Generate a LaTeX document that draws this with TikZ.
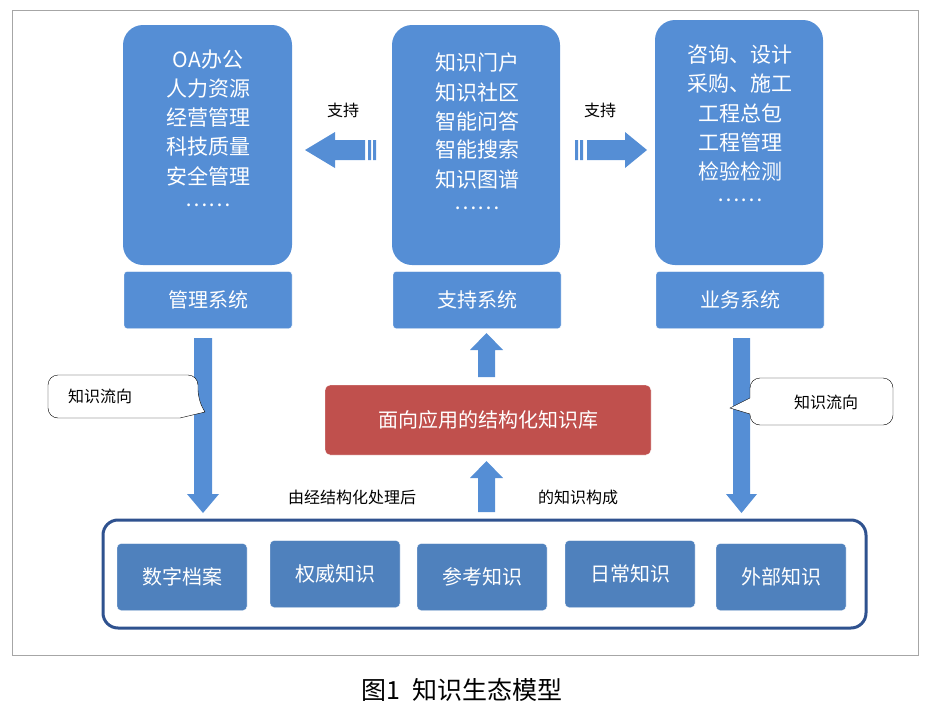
\documentclass[tikz,border=0pt]{standalone}
\usepackage{fontspec}
\setmainfont{Noto Sans CJK SC}
\definecolor{sysblue}{RGB}{85,142,213}
\definecolor{kbblue}{RGB}{79,129,189}
\definecolor{kbred}{RGB}{192,80,77}
\definecolor{frameblue}{RGB}{47,82,143}
\tikzset{
  tall/.style={fill=sysblue, rounded corners=20pt},
  sys/.style={fill=sysblue, draw=white, minimum width=168pt, minimum height=57pt,
    text=white, font=\fontsize{20}{24}\selectfont, rounded corners=3pt},
  item/.style={text=white, font=\fontsize{21}{24}\selectfont},
  kb/.style={fill=kbblue, draw=white, minimum width=130pt, minimum height=67pt,
    text=white, font=\fontsize{20}{24}\selectfont, rounded corners=4pt},
  flow/.style={fill=sysblue},
  note/.style={font=\fontsize{16}{20}\selectfont}
}
\begin{document}
\begin{tikzpicture}[x=1pt, y=-1pt]
    \useasboundingbox (0,0) rectangle (930,715);
    \draw[gray!70] (12,10) rectangle (918,655);
    % three columns
    \fill[tall] (123,25) rectangle (292,265);
    \fill[tall] (392,25) rectangle (560,265);
    \fill[tall] (655,20) rectangle (823,265);
    \node[sys] (mgmt) at (208,300) {管理系统};
    \node[sys] (supp) at (477,300) {支持系统};
    \node[sys] (biz) at (740,300) {业务系统};
    \foreach \t [count=\i] in {OA办公,人力资源,经营管理,科技质量,安全管理,……}
        \node[item] (m\i) at (208,31+29*\i) {\t};
    \foreach \t [count=\i] in {知识门户,知识社区,智能问答,智能搜索,知识图谱,……}
        \node[item] (s\i) at (477,34+29*\i) {\t};
    \foreach \t [count=\i] in {咨询、设计,采购、施工,工程总包,工程管理,检验检测,……}
        \node[item] (b\i) at (740,26+29*\i) {\t};
    % side arrows
    \fill[flow] (305,150) -- (335,132) -- (335,140) -- (365,140) -- (365,160)
        -- (335,160) -- (335,168) -- cycle;
    \fill[flow] (368,140) rectangle (371,160) (373,140) rectangle (376,160);
    \fill[flow] (647,150) -- (625,132) -- (625,140) -- (587,140) -- (587,160)
        -- (625,160) -- (625,168) -- cycle;
    \fill[flow] (575,140) rectangle (578,160) (580,140) rectangle (583,160);
    \node[note] (sl) at (343,110) {支持};
    \node[note] (sr) at (600,110) {支持};
    % knowledge base
    \node[fill=kbred, draw=white, minimum width=326pt, minimum height=70pt, rounded corners=5pt,
        text=white, font=\fontsize{20}{24}\selectfont] (kb) at (488,420) {面向应用的结构化知识库};
    \fill[flow] (478,377) -- (478,350) -- (470,350) -- (486.5,333) -- (503,350)
        -- (495,350) -- (495,377) -- cycle;
    \fill[flow] (478,512) -- (478,478) -- (470,478) -- (486.5,461) -- (503,478)
        -- (495,478) -- (495,512) -- cycle;
    \node[note] (p1) at (352,497) {由经结构化处理后};
    \node[note] (p2) at (578,497) {的知识构成};
    % down arrows
    \fill[flow] (194,338) -- (212,338) -- (212,494) -- (219,494) -- (203,513)
        -- (187,494) -- (194,494) -- cycle;
    \fill[flow] (733,338) -- (750,338) -- (750,494) -- (757,494) -- (741.5,513)
        -- (726,494) -- (733,494) -- cycle;
    % callouts
    \draw[fill=white, rounded corners=10pt] (48,375) -- (198,375) -- (198,400)
        [sharp corners] -- (205,412) -- (180,418) [rounded corners=10pt] -- (48,418) -- cycle;
    \node[note] (f1) at (100,396) {知识流向};
    \draw[fill=white, rounded corners=10pt] (893,378) -- (893,425) -- (750,425)
        [sharp corners] -- (750,414) -- (730,408) -- (750,398) [rounded corners=10pt] -- (750,378) -- cycle;
    \node[note] (f2) at (826,402) {知识流向};
    % knowledge sources
    \draw[frameblue, line width=3pt, rounded corners=15pt] (103,520) rectangle (866,628);
    \node[kb] (k1) at (182,577) {数字档案};
    \node[kb] (k2) at (335,574) {权威知识};
    \node[kb] (k3) at (482,577) {参考知识};
    \node[kb] (k4) at (630,574) {日常知识};
    \node[kb] (k5) at (781,577) {外部知识};
    \node[font=\fontsize{25}{30}\selectfont] (cap) at (462,690) {图1\ \ 知识生态模型};
\end{tikzpicture}
\end{document}
